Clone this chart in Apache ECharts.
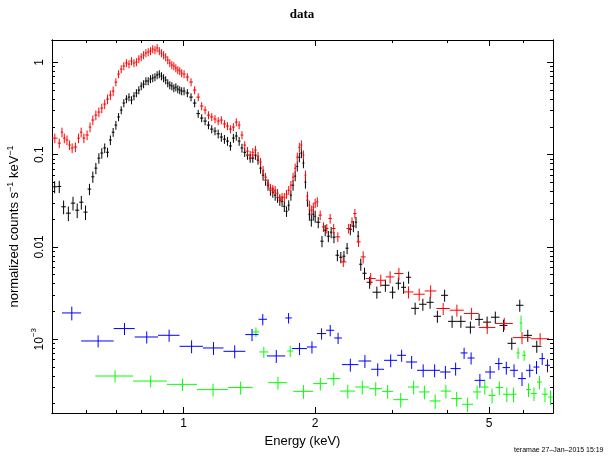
<!DOCTYPE html>
<html>
<head>
<meta charset="utf-8">
<title>data</title>
<script src="https://cdn.jsdelivr.net/npm/echarts@6/dist/echarts.min.js"></script>
<style>
  html, body { margin: 0; padding: 0; background: #fff; }
  #chart { width: 614px; height: 456px; }
</style>
</head>
<body>
<div id="chart"></div>
<script>
  // axis ranges and ticks (keV, counts s^-1 keV^-1)
  const xMin = 0.5;
  const xMax = 7;
  const yMin = 1.585e-4;
  const yMax = 1.746;
  const xMajorTicks = [1, 2, 5];
  const xTickLabels = ['1', '2', '5'];
  const xMinorTicks = [0.6, 0.7, 0.8, 0.9, 3, 4, 6];
  const yMajorTicks = [0.001, 0.01, 0.1, 1];
  const yTickLabels = ['{b|10}{s|−3}', '0.01', '0.1', '1'];
  const yMinorTicks = [
    0.0002, 0.0003, 0.0004, 0.0005, 0.0006, 0.0007, 0.0008, 0.0009,
    0.002, 0.003, 0.004, 0.005, 0.006, 0.007, 0.008, 0.009,
    0.02, 0.03, 0.04, 0.05, 0.06, 0.07, 0.08, 0.09,
    0.2, 0.3, 0.4, 0.5, 0.6, 0.7, 0.8, 0.9,
  ];

  // bin edges shared by the two bright spectra between 0.615 and 2.01 keV
  const denseEdges = [
    0.615, 0.625, 0.635, 0.645, 0.655, 0.665, 0.675, 0.685, 0.695, 0.705,
    0.715, 0.725, 0.735, 0.745, 0.755, 0.765, 0.775, 0.785, 0.795, 0.805,
    0.815, 0.825, 0.835, 0.845, 0.855, 0.865, 0.875, 0.885, 0.895, 0.905,
    0.915, 0.925, 0.935, 0.945, 0.955, 0.965, 0.975, 0.985, 0.995,
    1.01, 1.03, 1.05, 1.07, 1.09, 1.11, 1.13, 1.15, 1.17, 1.19,
    1.21, 1.23, 1.25, 1.27, 1.29, 1.31, 1.33, 1.35, 1.37, 1.39,
    1.41, 1.43, 1.45, 1.47, 1.49, 1.51, 1.53, 1.55, 1.57, 1.59,
    1.61, 1.63, 1.65, 1.67, 1.69, 1.71, 1.73, 1.75, 1.77, 1.79,
    1.81, 1.83, 1.85, 1.87, 1.89, 1.91, 1.93, 1.95, 1.97, 1.99, 2.01,
  ];

  // black spectrum
  const blackLowEdges = [0.5, 0.514, 0.525, 0.538, 0.552, 0.565, 0.577, 0.590, 0.603];
  const blackHighEdges = [
    2.055, 2.091, 2.126, 2.161, 2.190, 2.226, 2.270, 2.309, 2.346, 2.386,
    2.428, 2.464, 2.495, 2.522, 2.564, 2.623, 2.706, 2.830, 2.960, 3.055,
    3.145, 3.228, 3.315, 3.457, 3.596, 3.732, 3.882, 4.028, 4.201, 4.417,
    4.643, 4.843, 5.050, 5.281, 5.508, 5.760, 5.992, 6.266, 6.587,
  ];
  const blackRate = [
    0.0448, 0.0452, 0.0272, 0.0232, 0.0298, 0.0250, 0.0305, 0.0238, 0.0423,
    0.0575, 0.0714, 0.0916, 0.104, 0.118, 0.106, 0.144, 0.175, 0.209, 0.256,
    0.304, 0.362, 0.400, 0.420, 0.390, 0.431, 0.465, 0.500, 0.553, 0.581,
    0.627, 0.627, 0.660, 0.676, 0.693, 0.728, 0.746, 0.710, 0.676, 0.643,
    0.596, 0.567, 0.553, 0.526, 0.539, 0.513, 0.500, 0.488,
    0.488, 0.465, 0.420, 0.362, 0.278, 0.249, 0.231, 0.209, 0.189, 0.180,
    0.168, 0.155, 0.147, 0.140, 0.124, 0.151, 0.159, 0.140, 0.118, 0.106,
    0.0988, 0.0916, 0.0916, 0.0988, 0.0872, 0.0714, 0.0599, 0.0529, 0.0467, 0.0412,
    0.0392, 0.0364, 0.0345, 0.0321, 0.0310, 0.0275, 0.0243, 0.0283, 0.0364, 0.0467,
    0.0585, 0.0745, 0.0936, 0.104, 0.0809, 0.0503, 0.0321, 0.0226, 0.0195, 0.0226,
    0.0215,
    0.01853, 0.01153, 0.01517, 0.01306, 0.01443, 0.01274, 0.00813, 0.00773, 0.00793, 0.00968,
    0.01556, 0.01677, 0.01853, 0.01306, 0.00649, 0.00518, 0.00414, 0.00323, 0.00384, 0.00323,
    0.00404, 0.00365, 0.00469, 0.00216, 0.00239, 0.00251, 0.00177, 0.00299, 0.00156, 0.00156,
    0.00135, 0.00164, 0.00153, 0.00173, 0.00141, 0.000902, 0.00233, 0.00110, 0.000837,
  ];
  const blackErr = [
    0.15, 0.15, 0.17, 0.18, 0.17, 0.18, 0.17, 0.18, 0.14,
    0.14, 0.14, 0.13, 0.13, 0.12, 0.12, 0.12, 0.11, 0.11, 0.10,
    0.10, 0.10, 0.10, 0.10, 0.10, 0.10, 0.10, 0.10, 0.10, 0.10,
    0.10, 0.10, 0.10, 0.10, 0.10, 0.10, 0.10, 0.10, 0.10, 0.10,
    0.10, 0.10, 0.10, 0.10, 0.10, 0.10, 0.10, 0.10,
    0.10, 0.10, 0.10, 0.10, 0.10, 0.10, 0.10, 0.10, 0.10, 0.10,
    0.11, 0.11, 0.11, 0.11, 0.11, 0.11, 0.11, 0.11, 0.11, 0.11,
    0.11, 0.11, 0.11, 0.11, 0.11, 0.13, 0.13, 0.13, 0.13, 0.13,
    0.13, 0.13, 0.13, 0.13, 0.13, 0.13, 0.13, 0.13, 0.13, 0.13,
    0.12, 0.12, 0.12, 0.12, 0.12, 0.15, 0.15, 0.15, 0.15, 0.15,
    0.15,
    0.14, 0.14, 0.14, 0.14, 0.14, 0.14, 0.14, 0.14, 0.14, 0.14,
    0.14, 0.14, 0.14, 0.14, 0.15, 0.15, 0.15, 0.15, 0.15, 0.15,
    0.15, 0.15, 0.15, 0.15, 0.15, 0.15, 0.15, 0.15, 0.15, 0.15,
    0.15, 0.15, 0.15, 0.15, 0.15, 0.15, 0.15, 0.15, 0.15,
  ];

  // red spectrum
  const redLowEdges = [0.5, 0.515, 0.524, 0.530, 0.537, 0.545, 0.552, 0.560, 0.571, 0.579, 0.587, 0.596, 0.607];
  const redHighEdges = [
    2.035, 2.072, 2.108, 2.145, 2.184, 2.226, 2.281, 2.358, 2.413, 2.444,
    2.486, 2.541, 2.609, 2.750, 2.901, 3.034, 3.183, 3.356, 3.562, 3.787,
    4.064, 4.375, 4.734, 5.166, 5.664, 6.226, 6.855,
  ];
  const redRate = [
    0.151, 0.1333, 0.175, 0.151, 0.144, 0.127, 0.118, 0.1207, 0.151, 0.175, 0.151, 0.163, 0.1987,
    0.237, 0.268, 0.289, 0.319, 0.353, 0.400, 0.442, 0.488, 0.611, 0.746,
    0.845, 0.912, 0.983, 0.958, 1.033, 0.983, 1.008, 1.085, 1.141, 1.20,
    1.26, 1.293, 1.326, 1.394, 1.36, 1.43, 1.326, 1.26, 1.20, 1.141,
    1.059, 0.983, 0.935, 0.912, 0.867, 0.825, 0.805, 0.765,
    0.746, 0.693, 0.611, 0.500, 0.420, 0.336, 0.304, 0.268, 0.256, 0.243,
    0.231, 0.237, 0.215, 0.204, 0.189, 0.199, 0.225, 0.209, 0.163, 0.127,
    0.109, 0.0988, 0.106, 0.112, 0.0963, 0.0831, 0.0679, 0.0570, 0.0491, 0.0433,
    0.0423, 0.0412, 0.0382, 0.0337, 0.0345, 0.0345, 0.0373, 0.0412, 0.0467, 0.0570,
    0.0714, 0.0938, 0.120, 0.127, 0.0988, 0.0599, 0.0355, 0.0283, 0.0250, 0.0270,
    0.0298,
    0.03076, 0.0221, 0.01647, 0.01583, 0.02032, 0.01583, 0.01284, 0.00688, 0.01583, 0.01867,
    0.02302, 0.01133, 0.00779, 0.00454, 0.00435, 0.00473, 0.00515, 0.00325, 0.00307, 0.00333,
    0.00215, 0.00206, 0.00190, 0.00134, 0.00148, 0.00104, 0.00101,
  ];
  const redErr = [
    0.12, 0.12, 0.12, 0.12, 0.12, 0.12, 0.12, 0.12, 0.12, 0.12, 0.12, 0.12, 0.12,
    0.12, 0.12, 0.12, 0.12, 0.12, 0.12, 0.12, 0.12, 0.10, 0.10,
    0.10, 0.10, 0.10, 0.10, 0.10, 0.10, 0.10, 0.10, 0.10, 0.10,
    0.10, 0.10, 0.10, 0.10, 0.10, 0.10, 0.10, 0.10, 0.10, 0.10,
    0.10, 0.10, 0.10, 0.10, 0.10, 0.10, 0.10, 0.10,
    0.10, 0.10, 0.10, 0.10, 0.10, 0.10, 0.10, 0.10, 0.10, 0.10,
    0.10, 0.10, 0.10, 0.10, 0.10, 0.10, 0.10, 0.10, 0.10, 0.10,
    0.11, 0.11, 0.11, 0.11, 0.11, 0.11, 0.11, 0.11, 0.11, 0.11,
    0.11, 0.11, 0.11, 0.11, 0.11, 0.11, 0.11, 0.11, 0.11, 0.11,
    0.12, 0.12, 0.12, 0.12, 0.12, 0.12, 0.12, 0.12, 0.12, 0.12,
    0.12,
    0.12, 0.12, 0.12, 0.12, 0.12, 0.12, 0.12, 0.12, 0.12, 0.12,
    0.12, 0.12, 0.15, 0.15, 0.15, 0.15, 0.15, 0.15, 0.15, 0.15,
    0.15, 0.15, 0.15, 0.15, 0.15, 0.15, 0.15,
  ];

  // blue spectrum
  const blueEdges = [
    0.527, 0.583, 0.692, 0.773, 0.874, 0.979, 1.107, 1.234, 1.384, 1.484,
    1.551, 1.708, 1.769, 1.915, 2.018, 2.119, 2.211, 2.302, 2.512, 2.686,
    2.875, 3.079, 3.228, 3.421, 3.644, 3.861, 4.081, 4.302, 4.463, 4.631,
    4.894, 5.158, 5.366, 5.581, 5.821, 6.071, 6.316, 6.518, 6.710, 6.891,
  ];
  const blueRate = [
    0.001924, 0.000956, 0.001303, 0.001056, 0.001102, 0.000837, 0.000803, 0.000739, 0.001121, 0.001643,
    0.000658, 0.001698, 0.000791, 0.000823, 0.001150, 0.001249, 0.001030, 0.000530, 0.000580, 0.000472,
    0.000590, 0.000669, 0.000566, 0.000460, 0.000460, 0.000441, 0.000480, 0.000709, 0.000625, 0.000358,
    0.000441, 0.000544, 0.000492, 0.000460, 0.000374, 0.000460, 0.000499, 0.000616, 0.000521,
  ];
  const blueErr = [
    0.17, 0.15, 0.15, 0.15, 0.15, 0.16, 0.16, 0.16, 0.15, 0.14,
    0.16, 0.13, 0.15, 0.15, 0.14, 0.14, 0.14, 0.16, 0.16, 0.16,
    0.16, 0.15, 0.16, 0.16, 0.16, 0.16, 0.16, 0.14, 0.15, 0.17,
    0.16, 0.15, 0.16, 0.16, 0.17, 0.16, 0.16, 0.15, 0.16,
  ];

  // green spectrum
  const greenEdges = [
    0.628, 0.766, 0.916, 1.073, 1.263, 1.438, 1.490, 1.562, 1.726, 1.781,
    1.979, 2.131, 2.281, 2.469, 2.658, 2.845, 3.015, 3.262, 3.457, 3.654,
    3.872, 4.092, 4.336, 4.594, 4.792, 4.985, 5.171, 5.379, 5.596, 5.776,
    5.874, 5.955, 6.071, 6.233, 6.432, 6.604, 6.818, 7.0,
  ];
  const greenRate = [
    0.000399, 0.000352, 0.000324, 0.000284, 0.000299, 0.001197, 0.000727, 0.000338, 0.000745, 0.000272,
    0.000330, 0.000374, 0.000274, 0.000303, 0.000291, 0.000272, 0.000221, 0.000303, 0.000268, 0.000214,
    0.000274, 0.000227, 0.000197, 0.000268, 0.000303, 0.000246, 0.000299, 0.000253, 0.000253, 0.000709,
    0.001499, 0.000669, 0.000284, 0.000257, 0.000343, 0.000253, 0.000236,
  ];
  const greenErr = [
    0.15, 0.15, 0.15, 0.16, 0.16, 0.12, 0.14, 0.16, 0.14, 0.17,
    0.16, 0.16, 0.17, 0.17, 0.17, 0.17, 0.18, 0.17, 0.17, 0.18,
    0.17, 0.18, 0.18, 0.17, 0.17, 0.18, 0.17, 0.18, 0.18, 0.14,
    0.20, 0.13, 0.17, 0.17, 0.17, 0.18, 0.18,
  ];

  const blackEdges = [...blackLowEdges, ...denseEdges, ...blackHighEdges];
  const redEdges = [...redLowEdges, ...denseEdges, ...redHighEdges];

  const toItems = (edges, rate, err) => rate.map((v, i) => [edges[i], edges[i + 1], v, err[i]]);

  // XSPEC-style cross: horizontal bar = bin width, vertical bar = error
  const renderCross = (params, api) => {
    const lo = api.value(0);
    const hi = api.value(1);
    const y = api.value(2);
    const e = api.value(3);
    const xc = (lo + hi) / 2;
    const pL = api.coord([lo, y]);
    const pR = api.coord([hi, y]);
    const pT = api.coord([xc, y * (1 + e)]);
    const pB = api.coord([xc, y * (1 - e)]);
    const style = { stroke: api.visual('color'), lineWidth: 1 };
    return {
      type: 'group',
      children: [
        { type: 'line', shape: { x1: pL[0], y1: pL[1], x2: pR[0], y2: pR[1] }, style },
        { type: 'line', shape: { x1: pT[0], y1: pT[1], x2: pB[0], y2: pB[1] }, style },
      ],
    };
  };

  const findLabel = (ticks, labels, v) => {
    const i = ticks.findIndex((t) => Math.abs(t - v) / t < 1e-6);
    return i >= 0 ? labels[i] : '';
  };

  const baseFont = 'Liberation Sans, Helvetica, Arial, sans-serif';

  const xAxisCfg = (position, ticks, len, withLabels) => ({
    type: 'log',
    logBase: 10,
    min: xMin,
    max: xMax,
    position,
    axisLine: { show: true, onZero: false, lineStyle: { color: '#000', width: 1 } },
    axisTick: { show: true, inside: true, length: len, customValues: ticks, lineStyle: { color: '#000', width: 1 } },
    axisLabel: withLabels
      ? {
          show: true,
          customValues: xMajorTicks,
          margin: 5,
          color: '#000',
          fontSize: 12,
          fontFamily: baseFont,
          formatter: (v) => findLabel(xMajorTicks, xTickLabels, v),
        }
      : { show: false },
    splitLine: { show: false },
    name: withLabels ? 'Energy (keV)' : '',
    nameLocation: 'middle',
    nameGap: 19,
    nameTextStyle: { color: '#000', fontSize: 13, fontFamily: baseFont },
  });

  const yAxisCfg = (position, ticks, len, withLabels) => ({
    type: 'log',
    logBase: 10,
    min: yMin,
    max: yMax,
    position,
    axisLine: { show: true, onZero: false, lineStyle: { color: '#000', width: 1 } },
    axisTick: { show: true, inside: true, length: len, customValues: ticks, lineStyle: { color: '#000', width: 1 } },
    axisLabel: withLabels
      ? {
          show: true,
          customValues: yMajorTicks,
          rotate: 90,
          margin: 6,
          color: '#000',
          fontSize: 12,
          fontFamily: baseFont,
          formatter: (v) => findLabel(yMajorTicks, yTickLabels, v),
          rich: {
            b: { fontSize: 12, fontFamily: baseFont, color: '#000', lineHeight: 16, verticalAlign: 'bottom' },
            s: { fontSize: 8, fontFamily: baseFont, color: '#000', lineHeight: 10, verticalAlign: 'top' },
          },
        }
      : { show: false },
    splitLine: { show: false },
    name: withLabels ? 'normalized counts s{s|−1} keV{s|−1}' : '',
    nameLocation: 'middle',
    nameGap: 29,
    nameTextStyle: {
      color: '#000',
      fontSize: 13,
      fontFamily: baseFont,
      lineHeight: 16,
      rich: {
        s: { fontSize: 9, fontFamily: baseFont, color: '#000', lineHeight: 10, verticalAlign: 'top' },
      },
    },
  });

  const crossSeries = (name, color, data) => ({
    name,
    type: 'custom',
    renderItem: renderCross,
    encode: { x: [0, 1], y: 2 },
    xAxisIndex: 0,
    yAxisIndex: 0,
    itemStyle: { color },
    clip: true,
    silent: true,
    data,
  });

  const chart = echarts.init(document.getElementById('chart'));
  chart.setOption({
    animation: false,
    backgroundColor: '#fff',
    grid: { left: 52, right: 61, top: 40, bottom: 43, outerBoundsMode: 'none', containLabel: false },
    xAxis: [
      xAxisCfg('bottom', xMajorTicks, 6, true),
      xAxisCfg('bottom', xMinorTicks, 3, false),
      xAxisCfg('top', xMajorTicks, 6, false),
      xAxisCfg('top', xMinorTicks, 3, false),
    ],
    yAxis: [
      yAxisCfg('left', yMajorTicks, 6, true),
      yAxisCfg('left', yMinorTicks, 3, false),
      yAxisCfg('right', yMajorTicks, 6, false),
      yAxisCfg('right', yMinorTicks, 3, false),
    ],
    graphic: [
      {
        type: 'text',
        x: 302,
        y: 15,
        style: {
          text: 'data',
          fill: '#000',
          font: 'bold 13px "Liberation Serif", "Times New Roman", serif',
          textAlign: 'center',
          textVerticalAlign: 'middle',
        },
      },
      {
        type: 'text',
        x: 514,
        y: 450,
        style: {
          text: 'teramae 27–Jan–2015 15:19',
          fill: '#000',
          font: '7px ' + baseFont,
          textAlign: 'left',
          textVerticalAlign: 'middle',
        },
      },
    ],
    series: [
      crossSeries('black', '#000000', toItems(blackEdges, blackRate, blackErr)),
      crossSeries('red', '#ff0000', toItems(redEdges, redRate, redErr)),
      crossSeries('green', '#00ff00', toItems(greenEdges, greenRate, greenErr)),
      crossSeries('blue', '#0000ff', toItems(blueEdges, blueRate, blueErr)),
    ],
  });

  window.addEventListener('resize', () => chart.resize());
</script>
</body>
</html>
